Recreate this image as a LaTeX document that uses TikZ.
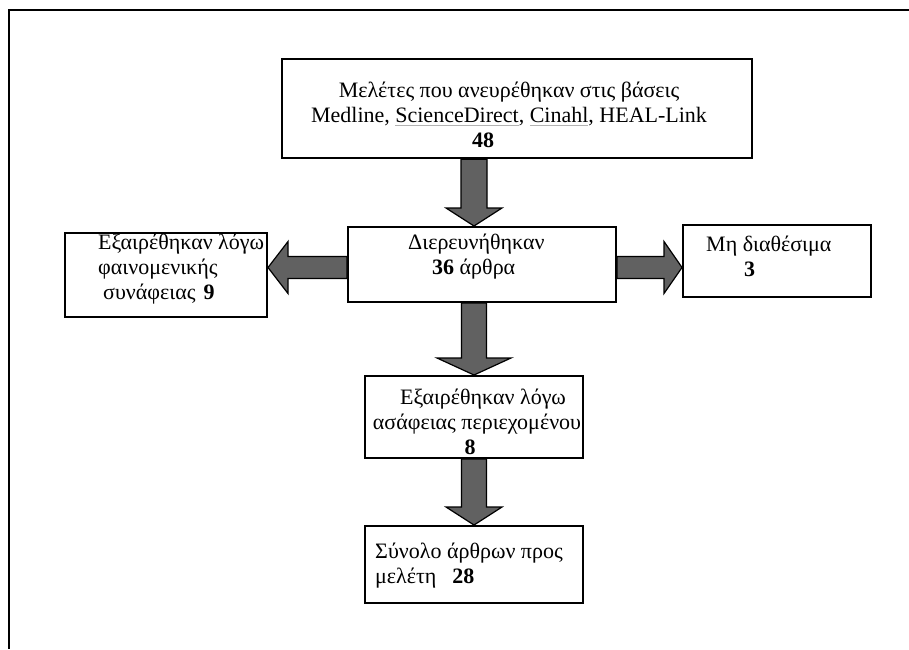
\documentclass[tikz,border=0pt]{standalone}
\usepackage{fontspec}
\setmainfont{Liberation Serif}
\usetikzlibrary{calc}

% grey link underline as in the source document
\newcommand{\lnk}[1]{\setbox0\hbox{#1}\rlap{\color{black!30}\rule[-3.5pt]{\wd0}{0.8pt}}\box0}

% block arrow: start, tip, shaft half width, head half width, head length
\newcommand{\fatarrow}[5]{%
  \coordinate (hb) at ($(#2)!#5!(#1)$);
  \draw[fatarrow] ($(#1)!#3!90:(#2)$) -- ($(hb)!#3!90:(#2)$) -- ($(hb)!#4!90:(#2)$) -- (#2)
    -- ($(hb)!#4!-90:(#2)$) -- ($(hb)!#3!-90:(#2)$) -- ($(#1)!#3!-90:(#2)$) -- cycle;
}

\tikzset{
  box/.style={draw, line width=2pt, inner sep=0pt},
  txt/.style={inner sep=0pt, font=\fontsize{22}{25}\selectfont},
  fatarrow/.style={draw=black, line width=1.2pt, fill=black!62, line join=miter},
}

\begin{document}
\begin{tikzpicture}[x=1pt, y=-1pt]
\useasboundingbox (0,0) rectangle (909,649);

% frame
\draw[line width=1.6pt] (909,10) -- (9,10) -- (9,649);

% texts
\node[txt, align=center] (search-t) at (509,115) {Μελέτες που ανευρέθηκαν στις βάσεις\\ Medline, \lnk{ScienceDirect}, \lnk{Cinahl}, HEAL-Link\\ \hspace*{-52pt}\textbf{48}};
\node[txt, align=left, anchor=west] (probe-t) at (408,256.5) {Διερευνήθηκαν\\ \hspace*{24pt}\textbf{36} άρθρα};
\node[txt, align=left, anchor=west] (irrelevant-t) at (98,269) {Εξαιρέθηκαν λόγω\\ φαινομενικής\\ \hspace*{5pt}συνάφειας\hspace{8pt}\textbf{9}};
\node[txt, align=left, anchor=west] (missing-t) at (706,256.5) {Μη διαθέσιμα\\ \hspace*{38pt}\textbf{3}};
\node[txt, align=center] (vague-t) at (477,422) {\hspace*{12pt}Εξαιρέθηκαν λόγω\\ ασάφειας περιεχομένου\\ \hspace*{-14pt}\textbf{8}};
\node[txt, align=left, anchor=west] (total-t) at (375,565.5) {Σύνολο άρθρων προς\\ μελέτη\hspace{16pt}\textbf{28}};

% boxes
\node[box, line width=2.5pt, minimum width=470, minimum height=99] (search) at (517,108.5) {};
\node[box, minimum width=268, minimum height=75] (probe) at (482,264.5) {};
\node[box, minimum width=202, minimum height=84] (irrelevant) at (166,275) {};
\node[box, minimum width=188, minimum height=72] (missing) at (777,261) {};
\node[box, minimum width=218, minimum height=82] (vague) at (474,417) {};
\node[box, minimum width=218, minimum height=77] (total) at (474,564.5) {};

% arrows
\coordinate (lstart) at ($(probe.west)+(0,3)$);
\coordinate (rstart) at ($(probe.east)+(0,3)$);
\fatarrow{search.south -| vague.north}{probe.north -| vague.north}{13pt}{28pt}{18pt}
\fatarrow{probe.south -| vague.north}{vague.north}{12.5pt}{37pt}{17pt}
\fatarrow{vague.south}{total.north}{12.5pt}{28pt}{18pt}
\fatarrow{lstart}{irrelevant.east |- lstart}{11pt}{26pt}{20pt}
\fatarrow{rstart}{missing.west |- rstart}{11pt}{26pt}{18pt}
\end{tikzpicture}
\end{document}
